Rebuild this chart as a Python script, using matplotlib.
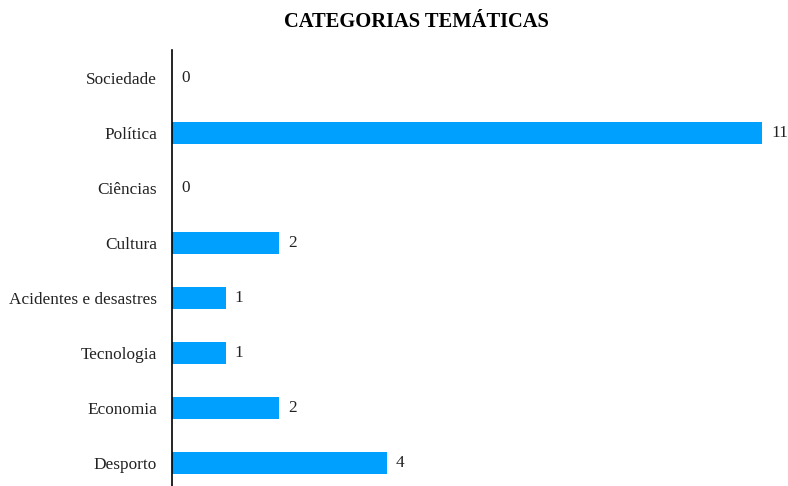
import matplotlib
matplotlib.use("Agg")
import matplotlib.pyplot as plt

categories = ["Sociedade", "Política", "Ciências", "Cultura",
              "Acidentes e desastres", "Tecnologia", "Economia", "Desporto"]
values = [0, 11, 0, 2, 1, 1, 2, 4]
title = "CATEGORIAS TEMÁTICAS"

plt.rcParams['font.family'] = ['Liberation Serif', 'DejaVu Serif']

fig = plt.figure(figsize=(7.88, 4.86), dpi=100)
W, H = 788, 486
left_px, top_px, bottom_px = 172, 50, 490.5
xmax = 12
unit = 590 / 11
ax = fig.add_axes([left_px / W, (H - bottom_px) / H, xmax * unit / W, (bottom_px - top_px) / H])

n = len(categories)
ypos = list(range(n))[::-1]
ax.barh(ypos, values, height=0.4, color='#00A0FF', edgecolor='none')
ax.set_ylim(-0.5, n - 0.5)
ax.set_xlim(0, xmax)
ax.set_yticks(ypos)
ax.set_yticklabels(categories, fontsize=12.4, color='#222222')
ax.tick_params(axis='y', length=0, pad=10.8)
ax.set_xticks([])
for s in ['top', 'right', 'bottom']:
    ax.spines[s].set_visible(False)
ax.spines['left'].set_color('black')
ax.spines['left'].set_linewidth(1.2)

for y, v in zip(ypos, values):
    ax.annotate(str(v), xy=(v, y), xytext=(6.5, 0), textcoords='offset points',
                va='center', ha='left', fontsize=12.4, color='#222222')

fig.text(416 / W, 1 - 22 / H, title, ha='center', va='center',
         fontsize=14.8, fontweight='bold', color='black')

fig.savefig('out.png', dpi=100)
